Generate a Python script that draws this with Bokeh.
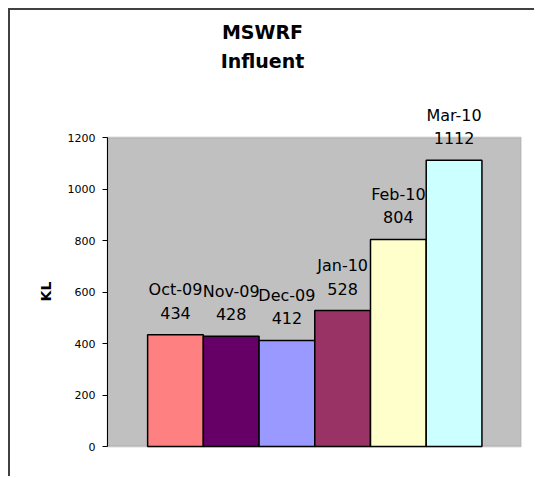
import math
from bokeh.plotting import figure
from bokeh.models import ColumnDataSource, LabelSet, Label, FixedTicker, Range1d, BoxAnnotation
from bokeh.core.properties import value
from bokeh.embed import file_html
from bokeh.resources import INLINE

months = ["Oct-09", "Nov-09", "Dec-09", "Jan-10", "Feb-10", "Mar-10"]
values = [434, 428, 412, 528, 804, 1112]
colors = ["#FF8080", "#660066", "#9999FF", "#993366", "#FFFFCC", "#CCFFFF"]
y_ticks = [0, 200, 400, 600, 800, 1000, 1200]
y_max = 1200

# layout (pixels): plot area 414x309, frame extended to the chart's edges
plot_w, plot_h = 414, 309
pad_left, pad_top, pad_bottom = 97, 127, 32
x_lo, x_hi = -1.22, 6.21
px_per_x = plot_w / (x_hi - x_lo)
px_per_y = plot_h / y_max
frame_x_lo = x_lo - pad_left / px_per_x
frame_y_lo = -pad_bottom / px_per_y
frame_y_hi = y_max + pad_top / px_per_y

src = ColumnDataSource(dict(
    x=list(range(len(months))),
    top=values,
    month=months,
    val=[str(v) for v in values],
    color=colors,
))

p = figure(width=526, height=468, output_backend="svg", toolbar_location=None,
           x_range=Range1d(frame_x_lo, x_hi), y_range=Range1d(frame_y_lo, frame_y_hi),
           min_border_left=0, min_border_right=15, min_border_top=0, min_border_bottom=0)
p.styles = {"border-left": "2px solid #404040", "border-top": "2px solid #404040",
            "margin-left": "8px", "margin-top": "8px"}
p.background_fill_color = "white"
p.border_fill_color = "white"
p.outline_line_color = None
p.grid.visible = False
p.xaxis.visible = False

p.add_layout(BoxAnnotation(left=x_lo, right=x_hi, bottom=0, top=y_max,
                           fill_color="#C0C0C0", fill_alpha=1.0,
                           line_color="#8C8C8C", line_width=2, level="underlay"))

p.vbar(x="x", top="top", width=1.0, bottom=0, fill_color="color",
       line_color="black", line_width=1.5, source=src)

ax = p.yaxis[0]
ax.fixed_location = x_lo
ax.bounds = (0, y_max)
ax.ticker = FixedTicker(ticks=y_ticks)
ax.minor_tick_line_color = None
ax.major_tick_in = 0
ax.major_tick_out = 5
ax.axis_line_color = "black"
ax.major_tick_line_color = "black"
ax.major_label_text_font = "DejaVu Sans"
ax.major_label_text_font_size = "11px"
ax.major_label_text_color = "black"
ax.major_label_standoff = 7

p.add_layout(Label(x=35, y=187, x_units="screen", y_units="screen", text="KL",
                   angle=math.pi / 2, text_align="center", text_baseline="middle",
                   text_font="DejaVu Sans", text_font_style="bold",
                   text_font_size="14px", text_color="black"))

p.add_layout(LabelSet(x="x", y="top", text="val", source=src, y_offset=22,
                      text_align="center", text_baseline="middle",
                      text_font=value("DejaVu Sans"), text_font_size=value("16px"),
                      text_color="black"))
p.add_layout(LabelSet(x="x", y="top", text="month", source=src, y_offset=45,
                      text_align="center", text_baseline="middle",
                      text_font=value("DejaVu Sans"), text_font_size=value("16px"),
                      text_color="black"))

for txt, yy in [("MSWRF", 447), ("Influent", 418)]:
    p.add_layout(Label(x=252, y=yy, x_units="screen", y_units="screen", text=txt,
                       text_align="center", text_baseline="middle",
                       text_font="DejaVu Sans", text_font_style="bold",
                       text_font_size="19px", text_color="black"))

open("out.html", "w").write(file_html(p, INLINE))
